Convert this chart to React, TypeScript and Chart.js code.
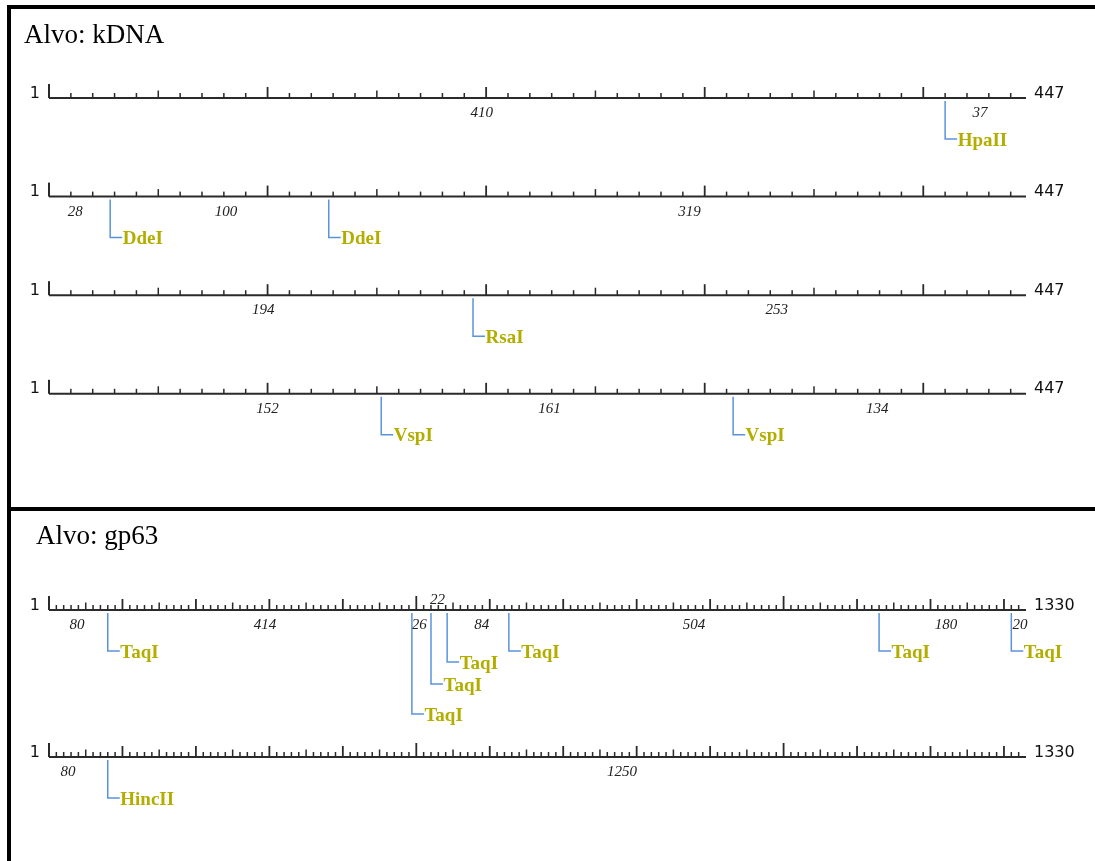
import React, { useEffect, useRef } from "react";
import { Chart, registerables } from "chart.js";
Chart.register(...registerables);

// ---------- DATA ----------
const kdnaTitle = "Alvo: kDNA";
const kdnaLength = 447;

const kdnaHpaIISites = [410];
const kdnaHpaIIFragments = [410, 37];
const kdnaHpaIILabelAt = [198, 426];

const kdnaDdeISites = [28, 128];
const kdnaDdeIFragments = [28, 100, 319];
const kdnaDdeILabelAt = [12, 81, 293];

const kdnaRsaISites = [194];
const kdnaRsaIFragments = [194, 253];
const kdnaRsaILabelAt = [98, 333];

const kdnaVspISites = [152, 313];
const kdnaVspIFragments = [152, 161, 134];
const kdnaVspILabelAt = [100, 229, 379];

const gp63Title = "Alvo: gp63";
const gp63Length = 1330;

const gp63TaqISites = [80, 494, 520, 542, 626, 1130, 1310];
const gp63TaqILevels = [0, 3, 2, 1, 0, 0, 0];
const gp63TaqIFragments = [80, 414, 26, 22, 84, 504, 180, 20];
const gp63TaqILabelAt = [38, 294, 504, 529, 589, 878, 1221, 1322];
const gp63TaqILabelAbove = [false, false, false, true, false, false, false, false];

const gp63HincIISites = [80];
const gp63HincIIFragments = [80, 1250];
const gp63HincIILabelAt = [26, 780];

// ---------- ROWS ----------
type Row = {
  enzyme: string;
  sites: number[];
  levels?: number[];
  fragments: number[];
  labelAt: number[];
  above?: boolean[];
};

const kdnaRows: Row[] = [
  { enzyme: "HpaII", sites: kdnaHpaIISites, fragments: kdnaHpaIIFragments, labelAt: kdnaHpaIILabelAt },
  { enzyme: "DdeI", sites: kdnaDdeISites, fragments: kdnaDdeIFragments, labelAt: kdnaDdeILabelAt },
  { enzyme: "RsaI", sites: kdnaRsaISites, fragments: kdnaRsaIFragments, labelAt: kdnaRsaILabelAt },
  { enzyme: "VspI", sites: kdnaVspISites, fragments: kdnaVspIFragments, labelAt: kdnaVspILabelAt },
];

const gp63Rows: Row[] = [
  {
    enzyme: "TaqI",
    sites: gp63TaqISites,
    levels: gp63TaqILevels,
    fragments: gp63TaqIFragments,
    labelAt: gp63TaqILabelAt,
    above: gp63TaqILabelAbove,
  },
  { enzyme: "HincII", sites: gp63HincIISites, fragments: gp63HincIIFragments, labelAt: gp63HincIILabelAt },
];

// ---------- LAYOUT / STYLE ----------
const W = 1095;
const AXIS_LEFT = 49;
const AXIS_RIGHT = 1026;
const LEVEL_OFFSETS = [0, 11, 33, 63];
const BASE_DROP = 41;
const ENZYME_COLOR = "#b3ad00";
const LINK_COLOR = "#5b93db";
const AXIS_COLOR = "#2a2a2a";

type Panel = {
  top: number;
  height: number;
  rowY0: number;
  rowDy: number;
  titleX: number;
  titleY: number;
};

const panelA: Panel = { top: 0, height: 508, rowY0: 98, rowDy: 98.6, titleX: 24, titleY: 43 };
const panelB: Panel = { top: 508, height: 353, rowY0: 102, rowDy: 147, titleX: 36, titleY: 36 };

function buildChart(canvas: HTMLCanvasElement, rows: Row[], length: number, title: string, panel: Panel) {
  const pxPerUnit = (AXIS_RIGHT - AXIS_LEFT) / length;
  const xMin = -AXIS_LEFT / pxPerUnit;
  const xMax = (W - AXIS_LEFT) / pxPerUnit;
  const yMin = -panel.rowY0 / panel.rowDy;
  const yMax = (panel.height - panel.rowY0) / panel.rowDy;

  const rulerSets = rows.map((row, r) => ({
    label: row.enzyme + " ruler",
    data: [
      { x: 0, y: r },
      { x: length, y: r },
    ],
    showLine: true,
    borderColor: AXIS_COLOR,
    borderWidth: 2,
    pointRadius: 0,
    clip: false as any,
  }));
  const siteSets = rows.map((row, r) => ({
    label: row.enzyme,
    data: row.sites.map((s) => ({ x: s, y: r })),
    showLine: false,
    pointRadius: 0,
    clip: false as any,
  }));

  const drawPlugin = {
    id: "restrictionMap",
    afterDatasetsDraw(chart: any) {
      const ctx: CanvasRenderingContext2D = chart.ctx;
      const xs = chart.scales.x;
      const ys = chart.scales.y;
      ctx.save();
      // title
      ctx.fillStyle = "#000";
      ctx.font = '27px "Liberation Serif"';
      ctx.textAlign = "left";
      ctx.textBaseline = "alphabetic";
      ctx.fillText(title, panel.titleX, panel.titleY);

      rows.forEach((row, r) => {
        const y = ys.getPixelForValue(r);
        const x0 = xs.getPixelForValue(0);
        const x1 = xs.getPixelForValue(length);
        // ticks
        ctx.fillStyle = AXIS_COLOR;
        for (let v = 0; v < length; v += 10) {
          let h = 4;
          let w = 1.5;
          if (v === 0) { h = 13; w = 2; }
          else if (v % 500 === 0) { h = 13; w = 1.8; }
          else if (v % 100 === 0) { h = 10; w = 1.8; }
          else if (v % 50 === 0) { h = 6.5; }
          const x = xs.getPixelForValue(v);
          ctx.fillRect(x - w / 2, y - 1 - h, w, h + 1);
        }
        // end labels
        ctx.fillStyle = "#111";
        ctx.font = '16px "DejaVu Sans"';
        ctx.textBaseline = "alphabetic";
        ctx.textAlign = "right";
        ctx.fillText("1", x0 - 9, y - 0.5);
        ctx.textAlign = "left";
        ctx.fillText(String(length), x1 + 8, y - 0.5);

        // fragment labels
        ctx.font = 'italic 15px "Liberation Serif"';
        ctx.textAlign = "center";
        ctx.fillStyle = "#222";
        row.fragments.forEach((f, i) => {
          const lx = xs.getPixelForValue(row.labelAt[i]);
          const above = row.above ? row.above[i] : false;
          ctx.fillText(String(f), lx, above ? y - 6.5 : y + 19);
        });

        // cut-site connectors + enzyme names
        const meta = chart.getDatasetMeta(rows.length + r);
        meta.data.forEach((pt: any, i: number) => {
          const sx = pt.x;
          const sy = pt.y;
          const lvl = row.levels ? row.levels[i] : 0;
          const hookY = sy + BASE_DROP + LEVEL_OFFSETS[lvl];
          ctx.strokeStyle = LINK_COLOR;
          ctx.lineWidth = 1.5;
          ctx.beginPath();
          ctx.moveTo(sx, sy + 3);
          ctx.lineTo(sx, hookY);
          ctx.lineTo(sx + 12, hookY);
          ctx.stroke();
          ctx.fillStyle = ENZYME_COLOR;
          ctx.font = 'bold 19px "Liberation Serif"';
          ctx.textAlign = "left";
          ctx.textBaseline = "alphabetic";
          ctx.fillText(row.enzyme, sx + 12.5, hookY + 6.5);
        });
      });
      ctx.restore();
    },
  };

  return new Chart(canvas, {
    type: "scatter",
    data: { datasets: [...rulerSets, ...siteSets] as any },
    options: {
      responsive: false,
      maintainAspectRatio: false,
      animation: false,
      devicePixelRatio: 1,
      events: [],
      layout: { padding: 0 },
      plugins: { legend: { display: false }, tooltip: { enabled: false }, title: { display: false } },
      scales: {
        x: { type: "linear", display: false, min: xMin, max: xMax },
        y: { type: "linear", display: false, reverse: true, min: yMin, max: yMax },
      },
    } as any,
    plugins: [drawPlugin],
  });
}

export default function App() {
  const refA = useRef<HTMLCanvasElement>(null);
  const refB = useRef<HTMLCanvasElement>(null);

  useEffect(() => {
    const a = buildChart(refA.current!, kdnaRows, kdnaLength, kdnaTitle, panelA);
    const b = buildChart(refB.current!, gp63Rows, gp63Length, gp63Title, panelB);
    return () => {
      a.destroy();
      b.destroy();
    };
  }, []);

  return (
    <div style={{ position: "absolute", left: 0, top: 0, width: W, height: 861, background: "#fff", overflow: "hidden" }}>
      <canvas
        ref={refA}
        width={W}
        height={panelA.height}
        style={{ position: "absolute", left: 0, top: panelA.top, display: "block" }}
      />
      <canvas
        ref={refB}
        width={W}
        height={panelB.height}
        style={{ position: "absolute", left: 0, top: panelB.top, display: "block" }}
      />
      <div style={{ position: "absolute", left: 7, top: 5, width: W - 7, height: 3.5, background: "#000" }} />
      <div style={{ position: "absolute", left: 7, top: 5, width: 3.5, height: 861 - 5, background: "#000" }} />
      <div style={{ position: "absolute", left: 7, top: 507, width: W - 7, height: 3.5, background: "#000" }} />
    </div>
  );
}
